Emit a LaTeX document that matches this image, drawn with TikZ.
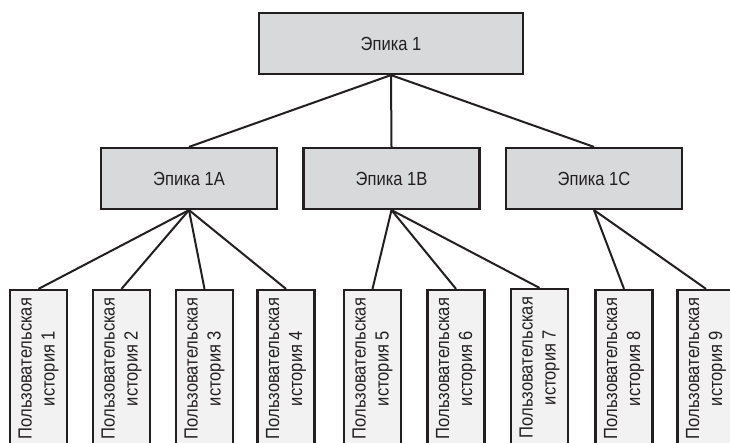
\documentclass[tikz,border=0pt]{standalone}
\usepackage{fontspec}
\setmainfont{Liberation Sans}[FakeStretch=0.87]
\definecolor{bordc}{HTML}{231F20}
\definecolor{epicfill}{HTML}{D8D9DB}
\definecolor{storyfill}{HTML}{F2F2F2}
\begin{document}
\begin{tikzpicture}[x=1pt,y=-1pt,
  epicbox/.style={draw=bordc, line width=2.2pt, fill=epicfill, inner sep=0pt,
    font=\fontsize{19}{22}\selectfont, text=bordc},
  storybox/.style={draw=bordc, line width=2.2pt, fill=storyfill, inner sep=0pt,
    rotate=90, minimum width=157pt, minimum height=57pt, align=center,
    font=\fontsize{19}{23}\selectfont, text=bordc},
  link/.style={draw=bordc, line width=2pt}]
\clip (0,0) rectangle (730,443);
\fill[white] (0,0) rectangle (730,443);
\node[epicbox, minimum width=264pt, minimum height=61pt] (top) at (391,43.5) {Эпика 1};
\node[epicbox, minimum width=176pt, minimum height=61pt] (ea) at (189,178.5) {Эпика 1A};
\node[epicbox, minimum width=176pt, minimum height=61pt] (eb) at (391.5,178.5) {Эпика 1B};
\node[epicbox, minimum width=176pt, minimum height=61pt] (ec) at (594,178.5) {Эпика 1C};
\node[storybox] (s1) at (38.5,368.5) {Пользовательская\\история 1};
\node[storybox] (s2) at (121.5,368.5) {Пользовательская\\история 2};
\node[storybox] (s3) at (204.5,368.5) {Пользовательская\\история 3};
\node[storybox] (s4) at (286,368.5) {Пользовательская\\история 4};
\node[storybox] (s5) at (372.5,368.5) {Пользовательская\\история 5};
\node[storybox] (s6) at (456,368.5) {Пользовательская\\история 6};
\node[storybox] (s7) at (539.5,367.5) {Пользовательская\\история 7};
\node[storybox] (s8) at (624,368.5) {Пользовательская\\история 8};
\node[storybox] (s9) at (706,368.5) {Пользовательская\\история 9};
\draw[link] (top.south) -- (ea.north);
\draw[link] (top.south) -- (eb.north);
\draw[link] (top.south) -- (ec.north);
\foreach \s in {s1,s2,s3,s4} \draw[link] (ea.south) -- (\s.east);
\foreach \s in {s5,s6,s7} \draw[link] (eb.south) -- (\s.east);
\foreach \s in {s8,s9} \draw[link] (ec.south) -- (\s.east);
\end{tikzpicture}
\end{document}
